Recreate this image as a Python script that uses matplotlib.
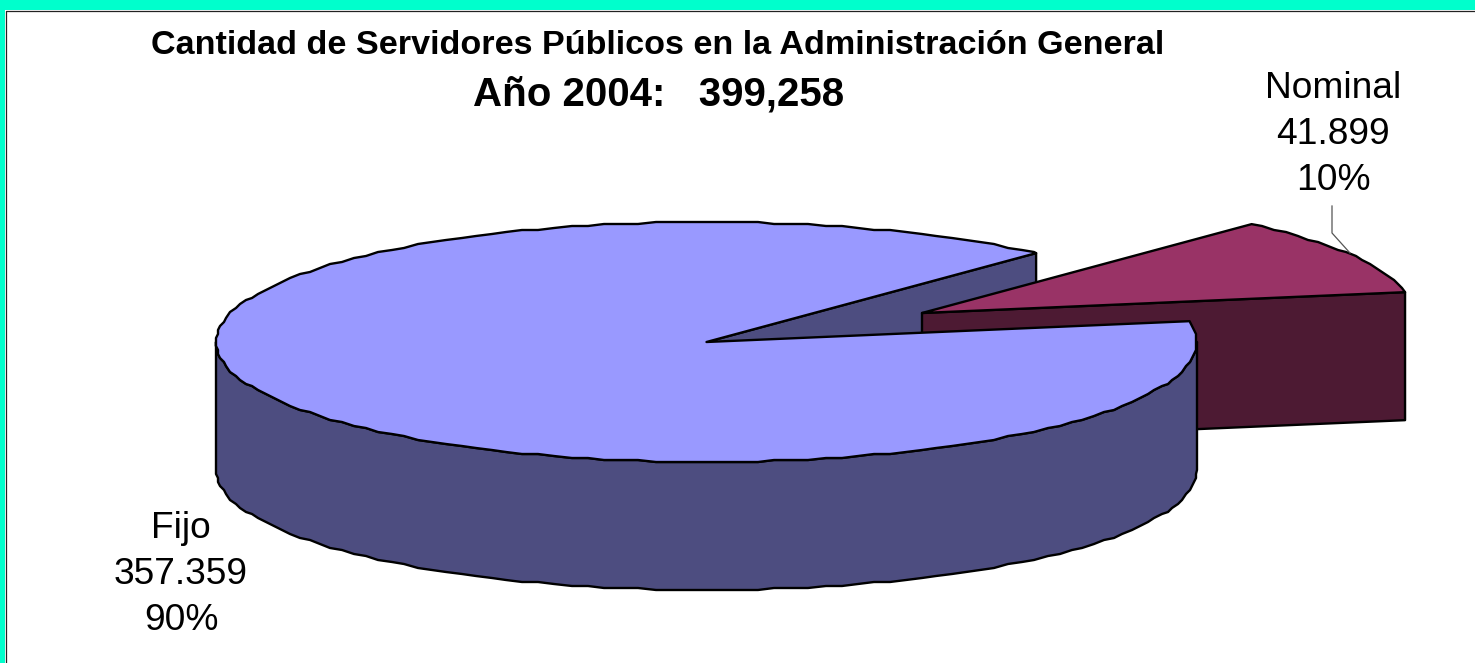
"""3D exploded pie: servidores publicos, Administracion General 2004."""
import matplotlib
matplotlib.use("Agg")
import matplotlib.pyplot as plt
import numpy as np
from matplotlib.patches import Polygon, Rectangle

categories = ["Fijo", "Nominal"]
values = [357359, 41899]
value_labels = ["357.359", "41.899"]
pct_labels = ["90%", "10%"]
title_1 = "Cantidad de Servidores Públicos en la Administración General"
title_2 = "Año 2004:   399,258"

W, H = 1475, 663
CX, CY = 706.5, 342
RX, RY = 490.5, 120
DEPTH = 128
START = 10.0  # Nominal's lower edge, degrees
OFFSET = (215.5, -29)  # explode shift of the Nominal slice
EDGE = "black"
LW = 1.7
GRID = 2.0  # the source outline is coarse, keep it slightly jagged
STEP = 2.0


def arc(a0, a1, cx, cy):
    # same angle samples for every arc, so top and wall outlines coincide
    inner = np.arange(np.ceil(a0 / STEP + 1e-6), np.floor(a1 / STEP - 1e-6) + 1) * STEP
    t = np.radians(np.concatenate([[a0], inner, [a1]]))
    pts = np.column_stack([cx + RX * np.cos(t), cy - RY * np.sin(t)])
    pts[1:-1] = np.round(pts[1:-1] / GRID) * GRID
    return pts


def poly(ax, pts, color):
    ax.add_patch(Polygon(pts, closed=True, facecolor=color, edgecolor=EDGE,
                         linewidth=LW, joinstyle="round"))


plt.rcParams["font.family"] = ["Liberation Sans", "DejaVu Sans"]
fig = plt.figure(figsize=(W / 100, H / 100), dpi=100)
ax = fig.add_axes([0, 0, 1, 1])
ax.set_xlim(0, W)
ax.set_ylim(H, 0)
ax.axis("off")

# frame
ax.add_patch(Rectangle((0, 0), W, 10, facecolor="#00FFCC", edgecolor="none"))
ax.add_patch(Rectangle((0, 0), 5, H, facecolor="#00FFCC", edgecolor="none"))
ax.plot([5.5, 5.5, W], [H, 10.5, 10.5], color="#222222", lw=0.9)

sweep = 360 * values[1] / sum(values)
end = START + sweep
drop = np.array([0, DEPTH])

# inner wall of the big slice, seen through the gap
rim = arc(end, end, CX, CY)[0]
centre = np.array([CX, CY])
poly(ax, [centre, rim, rim + drop, centre + drop], "#4D4D80")

# Nominal slice: front wall then top
nx, ny = CX + OFFSET[0], CY + OFFSET[1]
apex = np.array([nx, ny])
tip = arc(START, START, nx, ny)[0]
poly(ax, [apex, tip, tip + drop, apex + drop], "#4D1A33")
poly(ax, np.vstack([[apex], arc(START, end, nx, ny)]), "#993366")

# Fijo slice: round wall then top
front = arc(180, 360, CX, CY)
poly(ax, np.vstack([front, (front + drop)[::-1]]), "#4D4D80")
poly(ax, np.vstack([[centre], arc(end, 360 + START, CX, CY)]), "#9999FF")

# leader for Nominal
ax.plot([1332, 1332, 1350], [206, 233, 253], color="#555555", lw=0.9)

ax.text(657.5, 54, title_1, ha="center", va="baseline", fontsize=24.6, fontweight="bold")
ax.text(658.5, 106, title_2, ha="center", va="baseline", fontsize=29, fontweight="bold")

label_pos = {"Nominal": (1333, 98), "Fijo": (181, 538)}
for name, val, pct in zip(categories, value_labels, pct_labels):
    x, y = label_pos[name]
    for i, s in enumerate([name, val, pct]):
        ax.text(x, y + i * 46, s, ha="center", va="baseline", fontsize=26.7)

fig.savefig("out.png", dpi=100)
